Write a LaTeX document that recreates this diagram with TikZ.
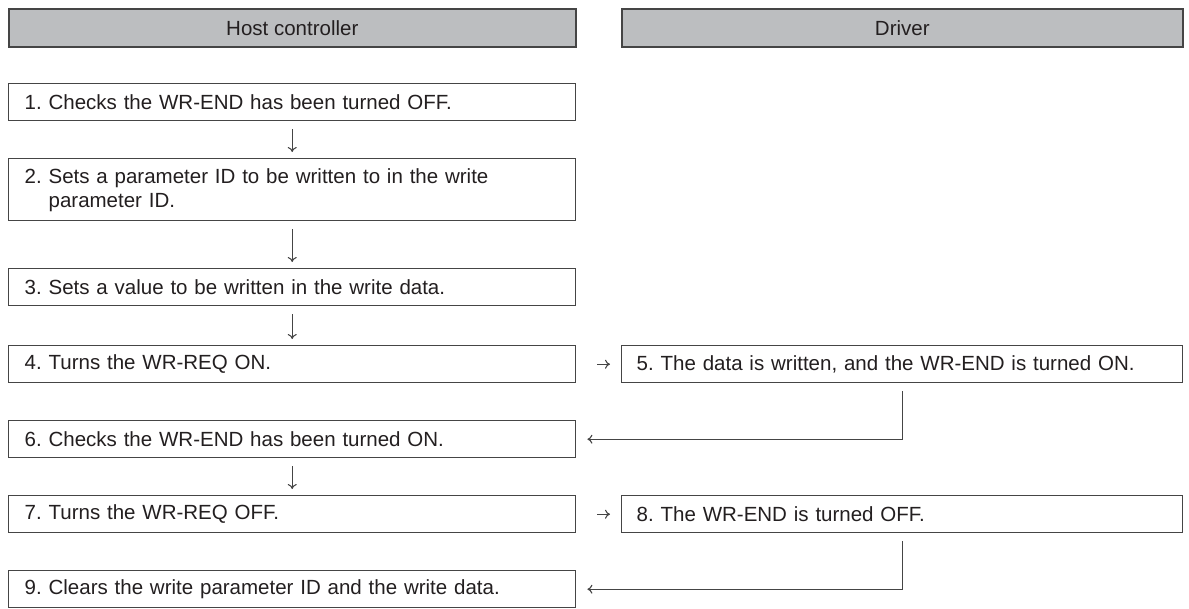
\documentclass[tikz,border=0pt]{standalone}
\usepackage{fontspec}
\setmainfont{Liberation Sans}
\usepackage{xcolor}
\usepackage{tikz}
\usetikzlibrary{arrows.meta,positioning,calc}
\definecolor{ink}{HTML}{231F20}
\definecolor{frame}{HTML}{454545}
\definecolor{headfill}{HTML}{BCBEC0}
\frenchspacing
\tikzset{
  hdr/.style={draw=frame,line width=1.6pt,fill=headfill,anchor=north west,
    minimum height=38pt,inner sep=0pt,align=center,text=ink},
  stepbox/.style={draw=frame,line width=1.4pt,fill=white,anchor=north west,
    minimum height=37pt,inner xsep=16pt,inner ysep=0pt,align=left,text=ink},
  host/.style={stepbox,text width=535pt},
  drv/.style={stepbox,text width=531pt,inner xsep=15pt},
  arr/.style={-{To[length=5pt,width=9pt]},line width=1.1pt,draw=frame}
}

\begin{document}
\begin{tikzpicture}[x=1pt,y=-1pt,font=\fontsize{20.5}{24}\selectfont]
 \useasboundingbox (0,0) rectangle (1189,608);
 % column heads
 \node[hdr,minimum width=567pt] (hc) at (8,8) {Host controller};
 \node[hdr,minimum width=561pt] (dr) at (621,8) {Driver};
 % host side
 \node[host] (s1) at (8,83) {1. Checks the WR-END has been turned OFF.};
 \node[host,minimum height=62pt] (s2) at (8,158)
   {2. Sets a parameter ID to be written to in the write\\\hphantom{2.\ }parameter ID.};
 \node[host] (s3) at (8,268) {3. Sets a value to be written in the write data.};
 \node[host] (s4) at (8,345) {4. Turns the WR-REQ ON.};
 \node[host] (s6) at (8,420) {6. Checks the WR-END has been turned ON.};
 \node[host] (s7) at (8,495) {7. Turns the WR-REQ OFF.};
 \node[host] (s9) at (8,570) {9. Clears the write parameter ID and the write data.};
 % driver side
 \node[drv] (s5) at (621,345) {5. The data is written, and the WR-END is turned ON.};
 \node[drv] (s8) at (621,495) {8. The WR-END is turned OFF.};
 % flow
 \foreach \a/\b in {s1/s2,s2/s3,s3/s4,s6/s7}
   \draw[arr,shorten <=8pt,shorten >=6pt] (\a.south) -- (\b.north);
 \draw[arr,shorten <=21pt,shorten >=11pt] (s4.east) -- (s5.west);
 \draw[arr,shorten <=21pt,shorten >=11pt] (s7.east) -- (s8.west);
 \draw[arr,shorten <=8pt,shorten >=11pt] (s5.south) |- (s6.east);
 \draw[arr,shorten <=8pt,shorten >=11pt] (s8.south) |- (s9.east);
\end{tikzpicture}
\end{document}
